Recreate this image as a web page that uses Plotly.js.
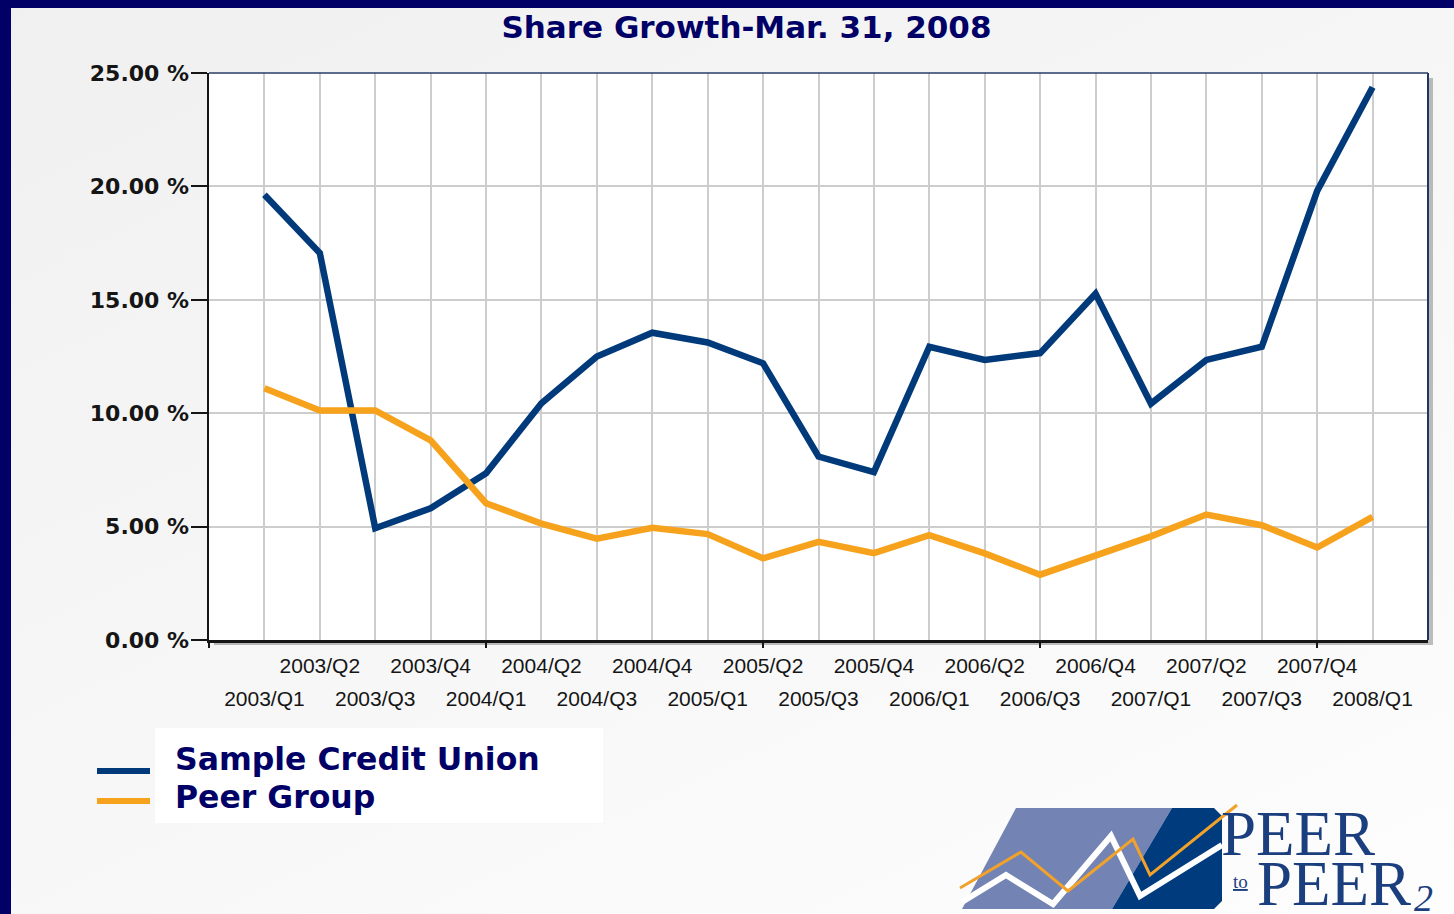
<!DOCTYPE html>
<html><head><meta charset="utf-8">
<script src="https://cdn.plot.ly/plotly-3.0.1.min.js"></script>
<style>
html,body{margin:0;padding:0;width:1454px;height:914px;overflow:hidden;background:#000066;}
#chart{position:absolute;left:11px;top:8px;width:1443px;height:906px;background:linear-gradient(155deg,#f0f0f0 0%,#f6f6f6 45%,#fdfdfd 100%);}
</style></head><body><div id="chart"></div>
<script>
// ---- data ----
const quarters = ['2003/Q1','2003/Q2','2003/Q3','2003/Q4','2004/Q1','2004/Q2','2004/Q3','2004/Q4',
  '2005/Q1','2005/Q2','2005/Q3','2005/Q4','2006/Q1','2006/Q2','2006/Q3','2006/Q4',
  '2007/Q1','2007/Q2','2007/Q3','2007/Q4','2008/Q1'];
const sampleCU = [19.63, 17.06, 4.93, 5.81, 7.35, 10.44, 12.50, 13.55, 13.12, 12.20, 8.09, 7.40,
  12.93, 12.35, 12.65, 15.27, 10.42, 12.35, 12.93, 19.80, 24.37];
const peerGroup = [11.10, 10.12, 10.12, 8.80, 6.03, 5.13, 4.47, 4.95, 4.67, 3.60, 4.33, 3.83,
  4.62, 3.82, 2.88, 3.71, 4.57, 5.53, 5.06, 4.08, 5.43];
const yTicks = [0, 5, 10, 15, 20, 25];
const yTickText = yTicks.map(v => v.toFixed(2) + ' %');
const seriesNames = ['Sample Credit Union', 'Peer Group'];
const titleText = 'Share Growth-Mar. 31, 2008';

// ---- geometry helpers (page px -> paper) ----
const W = 1443, H = 906, ML = 198, MR = 26, MT = 65, MB = 274;
const PW = W - ML - MR, PH = H - MT - MB;
const OX = 11, OY = 8;
const px = x => (x - OX - ML) / PW;
const py = y => 1 - (y - OY - MT) / PH;
const pathOf = pts => 'M' + pts.map(p => px(p[0]) + ',' + py(p[1])).join('L');

const idx = quarters.map((q, i) => i);
const NAVY = '#003a7a', ORANGE = '#f6a21d', GRID = '#cdcdcd';
const colors = [NAVY, ORANGE];
const tickFont = {family: 'Liberation Sans, Arial, sans-serif', size: 21, color: '#151515'};

const traces = [
  {x: idx, y: sampleCU, name: seriesNames[0], type: 'scatter', mode: 'lines',
   line: {color: colors[0], width: 6.5}, showlegend: false},
  {x: idx, y: peerGroup, name: seriesNames[1], type: 'scatter', mode: 'lines',
   line: {color: colors[1], width: 6.5}, showlegend: false},
  {x: [], y: [], xaxis: 'x2', showlegend: false, hoverinfo: 'skip'},
  {x: [], y: [], xaxis: 'x3', showlegend: false, hoverinfo: 'skip'}
];

const xr = [-1, quarters.length];
const shapes = [
  {type: 'rect', xref: 'paper', yref: 'paper', x0: px(214), x1: px(1433), y0: py(645), y1: py(78),
   fillcolor: 'rgba(0,0,0,0.25)', line: {width: 0}, layer: 'below'},
  {type: 'rect', xref: 'paper', yref: 'paper', x0: 0, x1: 1, y0: 0, y1: 1,
   fillcolor: '#ffffff', line: {width: 0}, layer: 'below'},
  {type: 'rect', xref: 'paper', yref: 'paper', x0: px(155), x1: px(603), y0: py(823), y1: py(728),
   fillcolor: '#ffffff', line: {width: 0}, layer: 'below'},
  {type: 'line', xref: 'paper', yref: 'paper', x0: 1, x1: 1, y0: 0, y1: 1,
   line: {color: '#1e3660', width: 2}},
  {type: 'line', xref: 'paper', yref: 'paper', x0: 0, x1: 1, y0: 1, y1: 1,
   line: {color: '#2a3c66', width: 1.5}},
  // legend samples
  {type: 'line', xref: 'paper', yref: 'paper', x0: px(97), x1: px(150), y0: py(771), y1: py(771),
   line: {color: colors[0], width: 6}},
  {type: 'line', xref: 'paper', yref: 'paper', x0: px(97), x1: px(150), y0: py(801), y1: py(801),
   line: {color: colors[1], width: 6}},
  // logo
  {type: 'path', xref: 'paper', yref: 'paper', layer: 'above',
   path: pathOf([[962, 909], [1016, 808], [1172, 808], [1112, 909]]) + 'Z',
   fillcolor: '#7384b4', line: {width: 0}},
  {type: 'path', xref: 'paper', yref: 'paper', layer: 'above',
   path: pathOf([[1172, 808], [1214, 808], [1222, 816], [1222, 901], [1214, 909], [1112, 909]]) + 'Z',
   fillcolor: '#003c7d', line: {width: 0}},
  {type: 'path', xref: 'paper', yref: 'paper', layer: 'above',
   path: pathOf([[962, 902], [1006, 875], [1053, 904], [1111, 836], [1140, 896], [1222, 845]]),
   line: {color: '#ffffff', width: 6}},
  {type: 'path', xref: 'paper', yref: 'paper', layer: 'above',
   path: pathOf([[960, 888], [1021, 852], [1068, 891], [1133, 839], [1150, 875], [1237, 805]]),
   line: {color: '#f2a12a', width: 3}}
];

const legendFont = {family: 'DejaVu Sans, Verdana, sans-serif', size: 31.5, weight: 'bold', color: '#000066'};
const logoFont = {family: 'Liberation Serif, Times New Roman, serif', color: '#1b3e7e'};
const annotations = [
  {text: seriesNames[0], xref: 'paper', yref: 'paper', x: px(173), y: py(759), xanchor: 'left', yanchor: 'middle',
   showarrow: false, font: legendFont},
  {text: seriesNames[1], xref: 'paper', yref: 'paper', x: px(173), y: py(797), xanchor: 'left', yanchor: 'middle',
   showarrow: false, font: legendFont},
  {text: 'PEER', xref: 'paper', yref: 'paper', x: px(1219), y: py(834), xanchor: 'left', yanchor: 'middle',
   showarrow: false, font: Object.assign({size: 63}, logoFont)},
  {text: 'PEER', xref: 'paper', yref: 'paper', x: px(1255), y: py(884), xanchor: 'left', yanchor: 'middle',
   showarrow: false, font: Object.assign({size: 63}, logoFont)},
  {text: '<span style="text-decoration:underline">to</span>', xref: 'paper', yref: 'paper',
   x: px(1240), y: py(881), xanchor: 'center', yanchor: 'middle',
   showarrow: false, font: Object.assign({size: 19}, logoFont)},
  {text: '<i>2</i>', xref: 'paper', yref: 'paper', x: px(1423), y: py(898), xanchor: 'center', yanchor: 'middle',
   showarrow: false, font: Object.assign({size: 38}, logoFont)}
];

const layout = {
  width: W, height: H,
  margin: {l: ML, r: MR, t: MT, b: MB, pad: 0},
  paper_bgcolor: 'rgba(0,0,0,0)', plot_bgcolor: 'rgba(0,0,0,0)',
  title: {text: titleText, xref: 'container', yref: 'container',
    x: (746.5 - OX) / W, xanchor: 'center', y: 1 - (27 - OY) / H, yanchor: 'middle',
    font: {family: 'DejaVu Sans, Verdana, sans-serif', size: 31, weight: 'bold', color: '#000066'}},
  xaxis: {type: 'linear', range: xr, autorange: false, tickmode: 'array', tickvals: idx,
    ticktext: quarters.map((q, i) => i % 2 === 1 ? q : ''), ticks: '', showgrid: true,
    gridcolor: GRID, gridwidth: 2, zeroline: false, showline: true, linecolor: '#151515', linewidth: 2.5,
    tickfont: tickFont, ticklabelstandoff: 5, fixedrange: true},
  xaxis2: {type: 'linear', range: xr, autorange: false, overlaying: 'x', anchor: 'y', side: 'bottom',
    tickmode: 'array', tickvals: idx, ticktext: quarters.map((q, i) => i % 2 === 0 ? q : ''),
    ticks: '', showgrid: false, zeroline: false, showline: false, tickfont: tickFont,
    ticklabelstandoff: 44, fixedrange: true},
  xaxis3: {type: 'linear', range: xr, autorange: false, overlaying: 'x', anchor: 'y', side: 'bottom',
    tickmode: 'array', tickvals: [-1, 4, 9, 14, 19], ticks: 'outside', ticklen: 7, tickwidth: 2,
    tickcolor: '#151515', showticklabels: false, showgrid: false, zeroline: false, showline: false,
    fixedrange: true},
  yaxis: {range: [0, 25], autorange: false, tickmode: 'array', tickvals: yTicks, ticktext: yTickText,
    ticks: 'outside', ticklen: 16, tickwidth: 2, tickcolor: '#151515', ticklabelstandoff: -3,
    showline: true, linecolor: '#151515', linewidth: 2.5, showgrid: true, gridcolor: GRID, gridwidth: 2,
    zeroline: false, fixedrange: true,
    tickfont: {family: 'DejaVu Sans, Verdana, sans-serif', size: 22, weight: 'bold', color: '#151515'}},
  showlegend: false,
  shapes: shapes,
  annotations: annotations,
  hovermode: false
};

Plotly.newPlot('chart', traces, layout, {staticPlot: true, displayModeBar: false});
</script>
</body></html>
